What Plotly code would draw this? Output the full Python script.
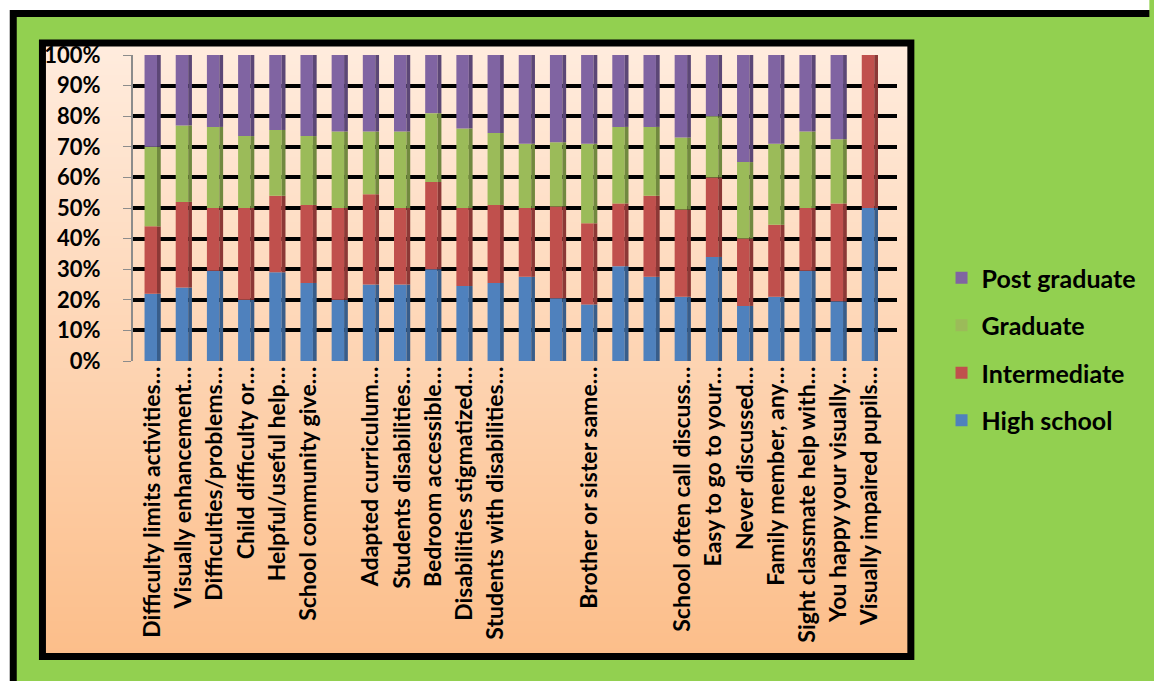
import base64, struct, zlib
import numpy as np
import plotly.graph_objects as go

labels = ["Difficulty limits activities…", "Visually enhancement…", "Difficulties/problems…",
          "Child difficulty or…", "Helpful/useful help…", "School community give…", "",
          "Adapted curriculum…", "Students disabilities…", "Bedroom accessible…",
          "Disabilities stigmatized…", "Students with disabilities…", "", "",
          "Brother or sister same…", "", "", "School often call discuss…", "Easy to go to your…",
          "Never discussed…", "Family member, any…", "Sight classmate help with…",
          "You happy your visually…", "Visually impaired pupils…"]

high_school  = [22, 24, 29.5, 20, 29, 25.5, 20, 25, 25, 30, 24.5, 25.5, 27.5, 20.5, 18.5, 31, 27.5, 21, 34, 18, 21, 29.5, 19.5, 50]
intermediate = [22, 28, 20.5, 30, 25, 25.5, 30, 29.5, 25, 28.5, 25.5, 25.5, 22.5, 30, 26.5, 20.5, 26.5, 28.5, 26, 22, 23.5, 20.5, 32, 50]
graduate     = [26, 25, 26.5, 23.5, 21.5, 22.5, 25, 20.5, 25, 22.5, 26, 23.5, 21, 21, 26, 25, 22.5, 23.5, 20, 25, 26.5, 25, 21, 0]
post_grad    = [30, 23, 23.5, 26.5, 24.5, 26.5, 25, 25, 25, 19, 24, 25.5, 29, 28.5, 29, 23.5, 23.5, 27, 20, 35, 29, 25, 27.5, 0]

y_ticks = list(range(0, 101, 10))
y_ticktext = [f"{v}%" for v in y_ticks]

series = [("High school", high_school, "#4F81BD", "#385D8A", 4),
          ("Intermediate", intermediate, "#C0504D", "#8C3836", 3),
          ("Graduate", graduate, "#9BBB59", "#71893F", 2),
          ("Post graduate", post_grad, "#8064A2", "#5C4776", 1)]

x = np.arange(len(labels))
data = np.array([s[1] for s in series], dtype=float)
pct = data / data.sum(axis=0) * 100
bases = np.vstack([np.zeros(len(labels)), np.cumsum(pct, axis=0)[:-1]])


def png_gradient(w, h, top, bottom):
    raw = b""
    for yy in range(h):
        t = yy / (h - 1)
        c = bytes(int(round(top[k] + (bottom[k] - top[k]) * t)) for k in range(3))
        raw += b"\x00" + c * w

    def chunk(typ, d):
        return struct.pack(">I", len(d)) + typ + d + struct.pack(">I", zlib.crc32(typ + d) & 0xffffffff)

    png = (b"\x89PNG\r\n\x1a\n" + chunk(b"IHDR", struct.pack(">IIBBBBB", w, h, 8, 2, 0, 0, 0))
           + chunk(b"IDAT", zlib.compress(raw)) + chunk(b"IEND", b""))
    return "data:image/png;base64," + base64.b64encode(png).decode()


fig = go.Figure()
for i, (name, _, col, dark, rank) in enumerate(series):
    fig.add_trace(go.Bar(x=x, y=pct[i], base=bases[i], name=name, marker_color=col,
                         marker_line_width=0, width=0.4, offset=-0.26,
                         legendgroup=name, legendrank=rank, hoverinfo="skip"))
    fig.add_trace(go.Bar(x=x, y=pct[i], base=bases[i], name=name, marker_color=dark,
                         marker_line_width=0, width=0.12, offset=0.14,
                         legendgroup=name, legendrank=rank, showlegend=False, hoverinfo="skip"))

W, H = 1154, 681
# plot area in page pixels: x 133..905, y 55..361
L, T = 133, 55
R, B = W - 905, H - 361
pw, ph = W - L - R, H - T - B


def px(v):
    return (v - L) / pw


def py(v):
    return (H - B - v) / ph


grad = png_gradient(4, 256, (255, 236, 222), (252, 190, 138))

fig.update_layout(
    width=W, height=H,
    margin=dict(l=L, r=R, t=T, b=B),
    paper_bgcolor="#92D050",
    plot_bgcolor="rgba(0,0,0,0)",
    barmode="overlay",
    font=dict(family="Lato", color="black"),
    images=[dict(source=grad, xref="paper", yref="paper", x=px(41), y=py(43),
                 sizex=px(919) - px(41), sizey=py(43) - py(656), sizing="stretch",
                 xanchor="left", yanchor="top", layer="below")],
    shapes=[
        dict(type="rect", xref="paper", yref="paper", x0=px(-5), x1=px(1160), y0=py(10), y1=py(-5),
             fillcolor="white", line=dict(width=0), layer="below"),
        dict(type="rect", xref="paper", yref="paper", x0=px(-5), x1=px(9), y0=py(690), y1=py(-5),
             fillcolor="white", line=dict(width=0), layer="below"),
        dict(type="line", xref="paper", yref="paper", x0=px(9), x1=px(1160), y0=py(13.5), y1=py(13.5),
             line=dict(color="black", width=7), layer="above"),
        dict(type="line", xref="paper", yref="paper", x0=px(12), x1=px(12), y0=py(10), y1=py(690),
             line=dict(color="black", width=7), layer="above"),
        dict(type="rect", xref="paper", yref="paper", x0=px(41.5), x1=px(919), y0=py(656.5), y1=py(43),
             line=dict(color="black", width=7), layer="above"),
        dict(type="rect", xref="x", yref="y", x0=-0.45, x1=23.75, y0=-2.2, y1=0,
             fillcolor="#B85A0E", line=dict(width=0), layer="above"),
    ],
    xaxis=dict(range=[-0.63, 23.87], tickmode="array", tickvals=x, ticktext=labels,
               tickangle=-90, tickfont=dict(size=23, family="Lato", color="black", weight="bold"),
               showgrid=False, zeroline=False, showline=False, ticks=""),
    yaxis=dict(range=[0, 100], tickmode="array", tickvals=y_ticks, ticktext=y_ticktext,
               tickfont=dict(size=22, family="Lato", color="black", weight="bold"),
               showgrid=True, gridcolor="black", gridwidth=4, zeroline=False,
               showline=True, linecolor="#8C8C8C", linewidth=2,
               ticks="outside", ticklen=8, tickcolor="#8C8C8C", ticklabelstandoff=18),
    legend=dict(x=px(950), y=py(255), xanchor="left", yanchor="top",
                traceorder="grouped", tracegroupgap=12,
                font=dict(size=25, family="Lato", color="black", weight="bold"),
                bgcolor="rgba(0,0,0,0)", itemwidth=30),
    showlegend=True,
)

fig.write_html("out.html", config={"displayModeBar": False},
               post_script="document.body.style.margin='0';document.body.style.overflow='hidden';")
